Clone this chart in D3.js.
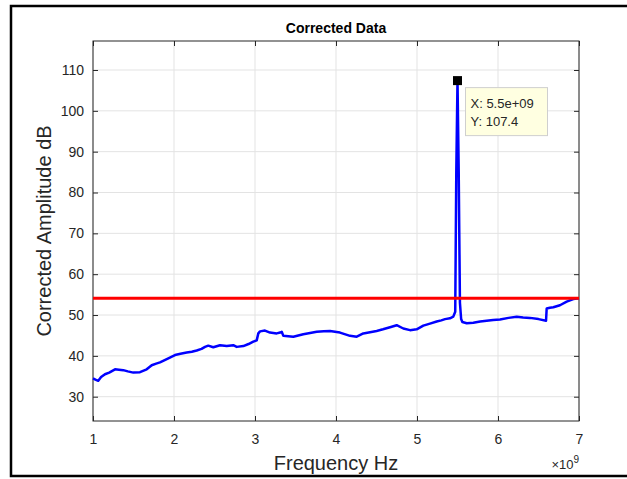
<!DOCTYPE html>
<html>
<head>
<meta charset="utf-8">
<script src="https://cdn.jsdelivr.net/npm/d3@7"></script>
<style>
  body { margin: 0; background: #fff; }
  text { font-family: "Liberation Sans", Arial, sans-serif; }
</style>
</head>
<body>
<div id="chart"></div>
<script>
// frequency in GHz (axis shows x 10^9)
var freqGHz = [1.00,1.03,1.065,1.10,1.148,1.20,1.272,1.32,1.374,1.43,1.498,1.58,1.663,1.725,1.78,1.827,1.93,2.012,2.08,2.157,2.22,2.28,2.34,2.383,2.423,2.485,2.568,2.651,2.732,2.774,2.856,2.92,2.979,3.021,3.041,3.062,3.123,3.185,3.268,3.31,3.33,3.35,3.41,3.473,3.596,3.68,3.762,3.85,3.926,4.049,4.173,4.256,4.337,4.42,4.502,4.58,4.667,4.749,4.831,4.914,4.996,5.078,5.16,5.243,5.30,5.346,5.407,5.448,5.472,5.485,5.50,5.515,5.53,5.545,5.56,5.614,5.695,5.78,5.86,5.94,6.025,6.13,6.231,6.31,6.395,6.50,6.593,6.601,6.64,6.683,6.765,6.848,6.93,7.00];
var ampDb = [34.5,34.2,33.9,34.8,35.5,35.9,36.7,36.6,36.5,36.2,35.9,36.0,36.7,37.7,38.1,38.4,39.4,40.2,40.5,40.8,41.0,41.3,41.7,42.2,42.5,42.1,42.6,42.4,42.6,42.2,42.4,42.9,43.5,43.8,45.5,46.0,46.2,45.7,45.5,45.7,45.9,44.9,44.8,44.7,45.3,45.6,45.9,46.0,46.1,45.7,44.9,44.7,45.5,45.8,46.1,46.5,47.0,47.5,46.7,46.3,46.5,47.4,47.9,48.4,48.7,49.0,49.2,49.6,50.8,85,107.4,85,53,49.0,48.3,48.0,48.1,48.4,48.6,48.8,48.9,49.3,49.6,49.4,49.3,49.0,48.6,51.6,51.8,51.9,52.4,53.3,53.9,54.1];

var thresholdDb = 54.1;
var tipPoint = { x: 5.5e9, y: 107.4 };
var tipLines = ["X: 5.5e+09", "Y: 107.4"];

var xTicks = [1e9, 2e9, 3e9, 4e9, 5e9, 6e9, 7e9];
var yTicks = [30, 40, 50, 60, 70, 80, 90, 100, 110];

var width = 627, height = 479;
var margin = {top: 41, right: 48, bottom: 58, left: 93};
var innerW = width - margin.left - margin.right;
var innerH = height - margin.top - margin.bottom;

var svg = d3.select("#chart").append("svg")
    .attr("width", width)
    .attr("height", height);

// figure frame
svg.append("path")
    .attr("d", "M640,6 H11 V476 H640")
    .attr("fill", "none")
    .attr("stroke", "#000")
    .attr("stroke-width", 2.5);

var g = svg.append("g")
    .attr("transform", "translate(" + margin.left + "," + margin.top + ")");

var x = d3.scaleLinear().domain([1e9, 7e9]).range([0, innerW]);
var y = d3.scaleLinear().domain([24.05, 117.1]).range([innerH, 0]);

// grid
g.append("g").selectAll("line")
    .data(xTicks)
    .enter().append("line")
    .attr("x1", d => x(d)).attr("x2", d => x(d))
    .attr("y1", 0).attr("y2", innerH)
    .attr("stroke", "#e3e3e3");
g.append("g").selectAll("line")
    .data(yTicks)
    .enter().append("line")
    .attr("x1", 0).attr("x2", innerW)
    .attr("y1", d => y(d)).attr("y2", d => y(d))
    .attr("stroke", "#e3e3e3");

// axes (ticks pointing inward, box on)
function styleAxis(sel) {
    sel.select(".domain").remove();
    sel.selectAll(".tick line").attr("stroke", "#262626");
    sel.selectAll(".tick text")
        .attr("fill", "#262626")
        .style("font-size", "14px")
        .style("font-family", "'Liberation Sans', Arial, sans-serif");
}

g.append("g")
    .attr("transform", "translate(0," + innerH + ")")
    .call(d3.axisBottom(x).tickValues(xTicks).tickFormat(d => d / 1e9).tickSizeInner(-5).tickPadding(13))
    .call(styleAxis);
g.append("g")
    .call(d3.axisTop(x).tickValues(xTicks).tickFormat("").tickSizeInner(-5))
    .call(styleAxis);
g.append("g")
    .call(d3.axisLeft(y).tickValues(yTicks).tickSizeInner(-5).tickPadding(9))
    .call(styleAxis);
g.append("g")
    .attr("transform", "translate(" + innerW + ",0)")
    .call(d3.axisRight(y).tickValues(yTicks).tickFormat("").tickSizeInner(-5))
    .call(styleAxis);

g.append("rect")
    .attr("width", innerW)
    .attr("height", innerH)
    .attr("fill", "none")
    .attr("stroke", "#262626")
    .attr("stroke-width", 1);

// data line
var pts = freqGHz.map((f, i) => [f * 1e9, ampDb[i]]);
var line = d3.line().x(d => x(d[0])).y(d => y(d[1]));

g.append("path")
    .datum(pts)
    .attr("d", line)
    .attr("fill", "none")
    .attr("stroke", "#0000ff")
    .attr("stroke-width", 2.5)
    .attr("stroke-linejoin", "round");

// threshold line
g.append("line")
    .attr("x1", 0).attr("x2", innerW)
    .attr("y1", y(thresholdDb)).attr("y2", y(thresholdDb))
    .attr("stroke", "#ff0000")
    .attr("stroke-width", 3);

// data tip
var tx = x(tipPoint.x), ty = y(tipPoint.y);
g.append("rect")
    .attr("x", tx - 4.5).attr("y", ty - 4.5)
    .attr("width", 9).attr("height", 9)
    .attr("fill", "#000");

var tip = g.append("g")
    .attr("transform", "translate(" + (tx + 8) + "," + (ty + 7) + ")");
tip.append("rect")
    .attr("width", 82).attr("height", 48)
    .attr("fill", "#ffffe1")
    .attr("stroke", "#cfcfcf");
tip.selectAll("text")
    .data(tipLines)
    .enter().append("text")
    .attr("x", 5)
    .attr("y", (d, i) => 20 + i * 18)
    .attr("fill", "#262626")
    .style("font-size", "13px")
    .text(d => d);

// titles
svg.append("text")
    .attr("x", margin.left + innerW / 2)
    .attr("y", 33)
    .attr("text-anchor", "middle")
    .style("font-size", "14px")
    .style("font-weight", "bold")
    .attr("fill", "#000")
    .text("Corrected Data");

svg.append("text")
    .attr("x", margin.left + innerW / 2)
    .attr("y", 470)
    .attr("text-anchor", "middle")
    .style("font-size", "20px")
    .attr("fill", "#262626")
    .text("Frequency Hz");

svg.append("text")
    .attr("transform", "translate(51," + (margin.top + innerH / 2) + ") rotate(-90)")
    .attr("text-anchor", "middle")
    .style("font-size", "20px")
    .attr("fill", "#262626")
    .text("Corrected Amplitude dB");

// exponent label
var expo = svg.append("text")
    .attr("x", 579)
    .attr("y", 469)
    .attr("text-anchor", "end")
    .attr("fill", "#262626")
    .style("font-size", "13px");
expo.append("tspan").text("\u00d710");
expo.append("tspan").attr("dy", -6).style("font-size", "10px").text("9");
</script>
</body>
</html>
